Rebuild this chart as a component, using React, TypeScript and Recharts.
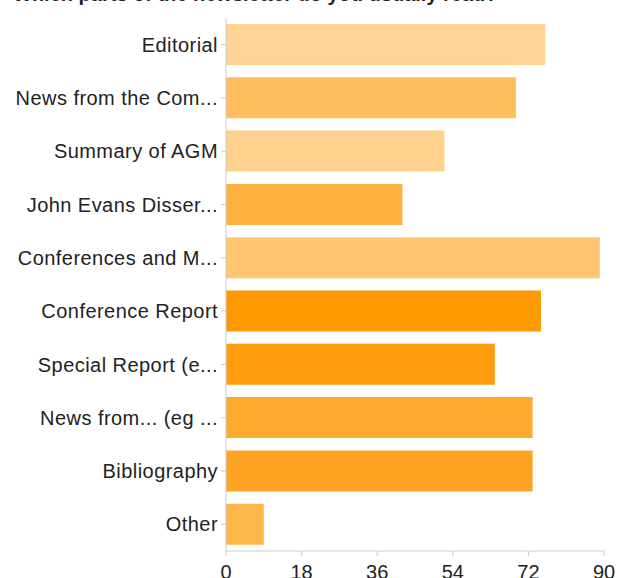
import React from "react";
import { BarChart, Bar, XAxis, YAxis, Cell } from "recharts";

const categories = [
  "Editorial",
  "News from the Com...",
  "Summary of AGM",
  "John Evans Disser...",
  "Conferences and M...",
  "Conference Report",
  "Special Report (e...",
  "News from... (eg ...",
  "Bibliography",
  "Other",
];
const values = [76, 69, 52, 42, 89, 75, 64, 73, 73, 9];
const barColors = [
  "#FFD393",
  "#FFBD5E",
  "#FFD18C",
  "#FFB13F",
  "#FFC571",
  "#FF9900",
  "#FF9D0E",
  "#FFA92F",
  "#FFA422",
  "#FFB64B",
];
const xTicks = [0, 18, 36, 54, 72, 90];
const title = "Which parts of the newsletter do you usually read?";

const data = categories.map((name, i) => ({ name, value: values[i] }));

const font = "'Liberation Sans', Arial, sans-serif";

export default function App() {
  return (
    <div style={{ position: "absolute", left: 0, top: 0, width: 618, height: 578, background: "#fff" }}>
      <svg width={618} height={20} style={{ position: "absolute", left: 0, top: 0 }}>
        <text x={13} y={0.5} fontFamily={font} fontWeight="bold" fontSize={20} fill="#222">
          {title}
        </text>
      </svg>
      <BarChart
        width={618}
        height={578}
        data={data}
        layout="vertical"
        margin={{ top: 18, right: 14, bottom: 0, left: 0 }}
        style={{ position: "absolute", left: 0, top: 0 }}
      >
        <XAxis
          type="number"
          domain={[0, 90]}
          ticks={xTicks}
          interval={0}
          height={27}
          tickSize={5}
          tickMargin={9}
          axisLine={{ stroke: "#ccc" }}
          tickLine={{ stroke: "#ccc" }}
          tick={{ fill: "#222", fontSize: 20, fontFamily: font }}
        />
        <YAxis
          type="category"
          dataKey="name"
          width={226}
          interval={0}
          tickSize={5}
          tickMargin={3}
          axisLine={{ stroke: "#ccc" }}
          tickLine={{ stroke: "#ccc" }}
          tick={{ fill: "#222", fontSize: 20, fontFamily: font, letterSpacing: 0.45 }}
        />
        <Bar dataKey="value" barSize={41} isAnimationActive={false}>
          {data.map((d, i) => (
            <Cell key={d.name} fill={barColors[i]} />
          ))}
        </Bar>
      </BarChart>
    </div>
  );
}
